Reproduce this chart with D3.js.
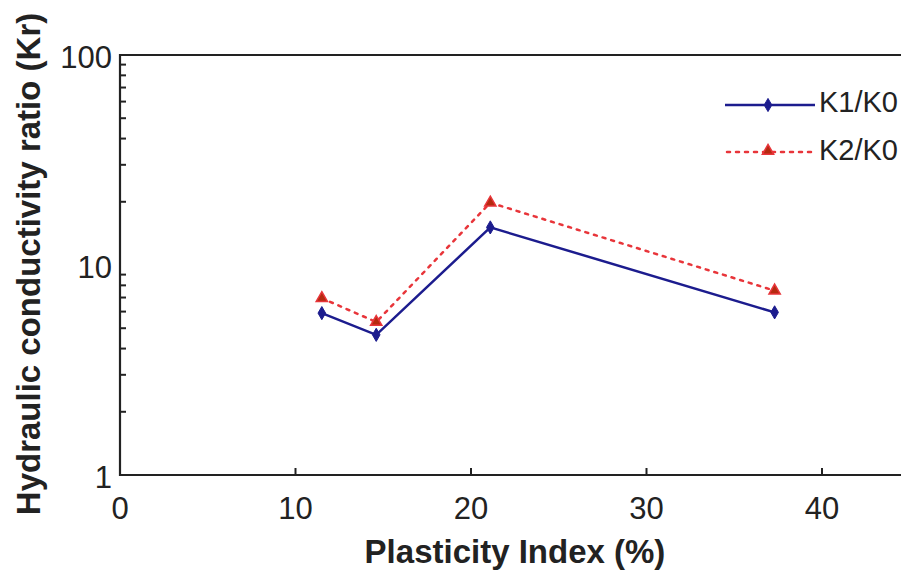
<!DOCTYPE html>
<html>
<head>
<meta charset="utf-8">
<script src="https://cdn.jsdelivr.net/npm/d3@7/dist/d3.min.js"></script>
<style>
  body { margin: 0; background: #fff; }
  text { font-family: "Liberation Sans", Arial, sans-serif; fill: #222; }
</style>
</head>
<body>
<div id="graph"></div>
<script>
// data
var plasticity = [11.5, 14.6, 21.1, 37.3];
var k1k0 = [5.9, 4.65, 15.1, 5.95];
var k2k0 = [6.95, 5.35, 19.8, 7.55];
var xTicks = [0, 10, 20, 30, 40];
var yTicks = [1, 10, 100];

var width = 901, height = 572;
var margins = {left: 120, top: 55, bottom: 97};

var svg = d3.select("#graph").append("svg")
    .attr("width", width)
    .attr("height", height);

var x = d3.scaleLinear().domain([0, 45]).range([margins.left, margins.left + 45 * 17.55]);
var y = d3.scaleLog().domain([1, 100]).range([height - margins.bottom, margins.top]);

// minor ticks on the log axis
var minor = [];
[1, 10].forEach(function(d) {
    for (var i = 2; i <= 9; i++) minor.push(d * i);
});

var plot = svg.append("g");

plot.selectAll(".ymin").data(minor).enter().append("line")
    .attr("x1", x(0)).attr("x2", x(0) + 6)
    .attr("y1", function(d) { return y(d); })
    .attr("y2", function(d) { return y(d); })
    .attr("stroke", "#222").attr("stroke-width", 2);

plot.selectAll(".xtick").data(xTicks.slice(1)).enter().append("line")
    .attr("x1", function(d) { return x(d); })
    .attr("x2", function(d) { return x(d); })
    .attr("y1", y(1)).attr("y2", y(1) - 7)
    .attr("stroke", "#222").attr("stroke-width", 2);

// frame
plot.append("path")
    .attr("d", "M" + (width + 5) + "," + y(100) + "H" + x(0) + "V" + y(1) + "H" + (width + 5))
    .attr("fill", "none").attr("stroke", "#222").attr("stroke-width", 2.2);

// tick labels
svg.selectAll(".xl").data(xTicks).enter().append("text")
    .attr("x", function(d) { return x(d); })
    .attr("y", y(1) + 44)
    .attr("text-anchor", "middle")
    .style("font-size", "31px")
    .text(function(d) { return d; });

svg.selectAll(".yl").data(yTicks).enter().append("text")
    .attr("x", x(0) - 8)
    .attr("y", function(d) { return y(d) + 13; })
    .attr("text-anchor", "end")
    .style("font-size", "31px")
    .text(function(d) { return d; });

// axis titles
svg.append("text")
    .attr("x", 515).attr("y", 563)
    .attr("text-anchor", "middle")
    .style("font-size", "33px").style("font-weight", "bold")
    .text("Plasticity Index (%)");

svg.append("text")
    .attr("transform", "translate(40,264) rotate(-90)")
    .attr("text-anchor", "middle")
    .style("font-size", "33px").style("font-weight", "bold")
    .text("Hydraulic conductivity ratio (Kr)");

var blue = "#1c1c8e", red = "#e8353a", triFill = "#b52a10";

var line = d3.line()
    .x(function(d) { return x(d[0]); })
    .y(function(d) { return y(d[1]); });

var s1 = d3.zip(plasticity, k1k0);
var s2 = d3.zip(plasticity, k2k0);

plot.append("path").attr("d", line(s2))
    .attr("fill", "none").attr("stroke", red).attr("stroke-width", 2.5)
    .attr("stroke-dasharray", "3,6").attr("stroke-linecap", "round");

plot.append("path").attr("d", line(s1))
    .attr("fill", "none").attr("stroke", blue).attr("stroke-width", 2.5);

var diamond = d3.symbol().type(d3.symbolDiamond).size(50);
var triangle = d3.symbol().type(d3.symbolTriangle).size(55);

plot.selectAll(".m1").data(s1).enter().append("path")
    .attr("d", diamond)
    .attr("transform", function(d) { return "translate(" + x(d[0]) + "," + y(d[1]) + ")"; })
    .attr("fill", blue).attr("stroke", blue);

plot.selectAll(".m2").data(s2).enter().append("path")
    .attr("d", triangle)
    .attr("transform", function(d) { return "translate(" + x(d[0]) + "," + y(d[1]) + ")"; })
    .attr("fill", triFill).attr("stroke", red).attr("stroke-width", 1.5);

// legend
var legend = svg.append("g");
legend.append("line").attr("x1", 725).attr("x2", 815).attr("y1", 105).attr("y2", 105)
    .attr("stroke", blue).attr("stroke-width", 2.5);
legend.append("path").attr("d", diamond).attr("transform", "translate(768,105)")
    .attr("fill", blue).attr("stroke", blue);
legend.append("text").attr("x", 819).attr("y", 112).style("font-size", "29px").text("K1/K0");

legend.append("line").attr("x1", 727).attr("x2", 812).attr("y1", 152).attr("y2", 152)
    .attr("stroke", red).attr("stroke-width", 2.5)
    .attr("stroke-dasharray", "3,6").attr("stroke-linecap", "round");
legend.append("path").attr("d", triangle).attr("transform", "translate(768,151)")
    .attr("fill", triFill).attr("stroke", red).attr("stroke-width", 1.5);
legend.append("text").attr("x", 819).attr("y", 160).style("font-size", "29px").text("K2/K0");
</script>
</body>
</html>
